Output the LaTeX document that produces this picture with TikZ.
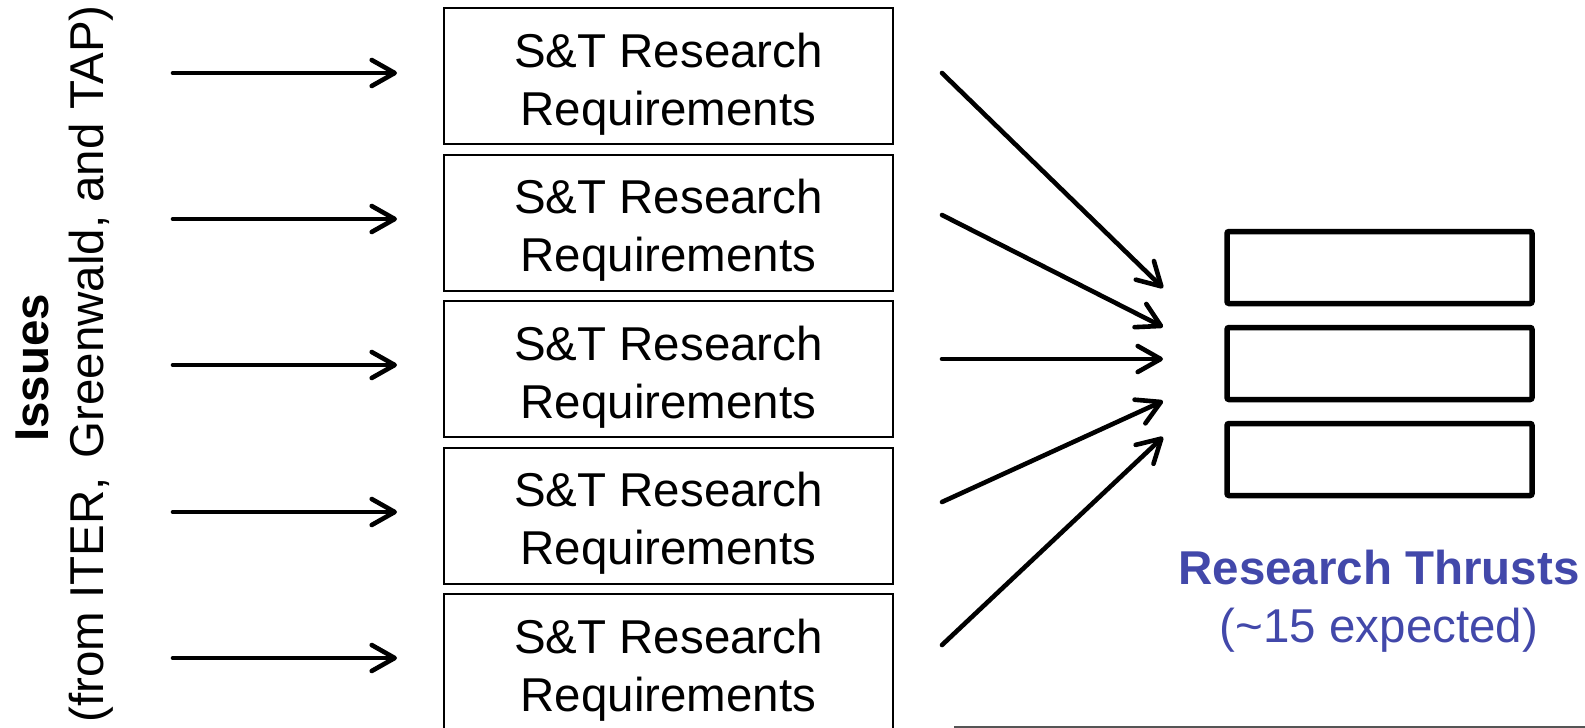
\documentclass[tikz,border=0pt]{standalone}
\usepackage{fontspec}
\setmainfont{Liberation Sans}
\usetikzlibrary{arrows.meta}
\definecolor{thrust}{RGB}{66,72,170}
\definecolor{rulegray}{RGB}{85,85,85}
\begin{document}
\begin{tikzpicture}[x=1pt,y=-1pt,
  arr/.style={line width=4.6pt, line cap=round, line join=round, -{Straight Barb[length=23pt,width=26pt,round]}},
  stbox/.style={draw, line width=2pt, minimum width=449pt, minimum height=136pt, inner sep=0pt},
  sttext/.style={font=\fontsize{47.5}{58}\selectfont, anchor=base, inner sep=0pt},
  tbox/.style={draw, line width=5.5pt, rounded corners=2pt, minimum width=305pt, minimum height=72pt, inner sep=0pt},
  ttl/.style={text=thrust, anchor=base, inner sep=0pt},
  side/.style={font=\fontsize{47.5}{58}\selectfont, anchor=base, inner sep=0pt, rotate=90}]
\useasboundingbox (0,0) rectangle (1585,728);

% left vertical labels
\node[side, font=\fontsize{47.5}{58}\selectfont\bfseries] (iss) at (48,368) {Issues};
\node[side] (src) at (103,364) {(from ITER,\hspace{0.12em} Greenwald, and TAP)};

% requirement boxes
\foreach \i/\y/\ya/\ys/\ye in {1/76/73/73/288, 2/222.5/219/215/327, 3/369/365/359/359, 4/515.5/512/502/401, 5/662/658/645/437} {
  \node[stbox] (r\i) at (668.5,\y) {};
  \node[sttext] (ra\i) at ([yshift=9pt]r\i.center) {S\&T Research};
  \node[sttext] (rb\i) at ([yshift=-49pt]r\i.center) {Requirements};
  \coordinate (in\i) at (173,\ya);
  \coordinate (inend\i) at (397,\ya);
  \draw[arr] (in\i) -- (inend\i);
  \coordinate (out\i) at (942,\ys);
  \coordinate (outend\i) at (1163,\ye);
  \draw[arr] (out\i) -- (outend\i);
}

% research thrust boxes
\node[tbox] (t1) at (1379.5,267.5) {};
\node[tbox] (t2) at (1379.5,363.5) {};
\node[tbox] (t3) at (1379.5,459.5) {};

\node[ttl, font=\fontsize{47.5}{58}\selectfont\bfseries] (tt) at (1379,584) {Research Thrusts};
\node[ttl, font=\fontsize{47.5}{58}\selectfont] (te) at (1379,642) {(\textasciitilde 15 expected)};

% bottom rule
\coordinate (ruleA) at (954,727);
\coordinate (ruleB) at (1585,727);
\draw[rulegray, line width=1.6pt] (ruleA) -- (ruleB);
\end{tikzpicture}
\end{document}
